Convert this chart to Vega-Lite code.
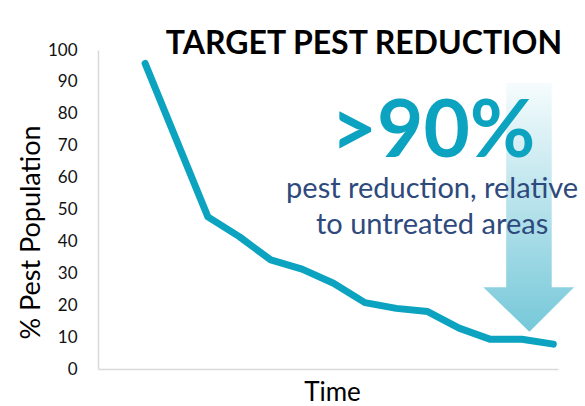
{
  "$schema": "https://vega.github.io/schema/vega-lite/v6.json",
  "autosize": "none",
  "width": 460,
  "height": 319,
  "padding": {"left": 98, "top": 50, "right": 27, "bottom": 37},
  "background": "white",
  "config": {"view": {"stroke": null}, "font": "Lato"},
  "datasets": {
    "pest": [
      {"t": 0, "pct": 95.8}, {"t": 2, "pct": 47.7}, {"t": 3, "pct": 41.5}, {"t": 4, "pct": 34.2},
      {"t": 5, "pct": 31.3}, {"t": 6, "pct": 26.9}, {"t": 7, "pct": 20.8}, {"t": 8, "pct": 19.0},
      {"t": 9, "pct": 18.0}, {"t": 10, "pct": 12.8}, {"t": 11, "pct": 9.3}, {"t": 12, "pct": 9.3},
      {"t": 13, "pct": 7.8}
    ],
    "arrow": [
      {"k": 1, "t": 11.5, "pct": 89.7}, {"k": 2, "t": 12.95, "pct": 89.7}, {"k": 3, "t": 12.95, "pct": 25.6},
      {"k": 4, "t": 13.66, "pct": 25.6}, {"k": 5, "t": 12.24, "pct": 11.7}, {"k": 6, "t": 10.77, "pct": 25.6},
      {"k": 7, "t": 11.5, "pct": 25.6}, {"k": 8, "t": 11.5, "pct": 89.7}
    ],
    "title": [{"t": 6.97, "pct": 98.9, "label": "TARGET PEST REDUCTION"}],
    "big": [{"t": 9.17, "pct": 66.5, "label": ">90%"}],
    "sub": [{"t": 9.14, "pct": 53.7, "label": "pest reduction, relative"}, {"t": 9.14, "pct": 42.4, "label": "to untreated areas"}]
  },
  "encoding": {
    "x": {"field": "t", "type": "quantitative", "scale": {"domain": [-1.5, 13.15], "nice": false, "zero": false},
      "axis": {"title": "Time", "labels": false, "ticks": false, "grid": false, "domainColor": "#d9d9d9", "domainWidth": 1.5,
        "titleFontSize": 26, "titleFontWeight": "normal", "titleColor": "#000000", "titleFont": "Lato",
        "titleX": 234, "titleY": 31, "titleBaseline": "alphabetic"}},
    "y": {"field": "pct", "type": "quantitative", "scale": {"domain": [0, 100], "nice": false},
      "axis": {"title": "% Pest Population", "values": [0,10,20,30,40,50,60,70,80,90,100], "ticks": false, "grid": false,
        "domainColor": "#d9d9d9", "domainWidth": 1.5, "labelPadding": 21, "labelFontSize": 17, "labelColor": "#111111", "labelFont": "Lato",
        "titleFontSize": 27, "titleFontWeight": "normal", "titleColor": "#000000", "titleFont": "Lato",
        "titleX": -67, "titleY": 182, "titleAngle": -90, "titleAlign": "center", "titleBaseline": "middle"}}
  },
  "layer": [
    {
      "data": {"name": "arrow"},
      "mark": {"type": "line", "filled": true, "strokeWidth": 0, "interpolate": "linear", "clip": false,
        "fill": {"gradient": "linear", "x1": 0, "y1": 0, "x2": 0, "y2": 1,
          "stops": [{"offset": 0, "color": "#f6fcfd"}, {"offset": 1, "color": "#76c8d9"}]}},
      "encoding": {"order": {"field": "k", "type": "quantitative"}}
    },
    {
      "data": {"name": "pest"},
      "mark": {"type": "line", "color": "#0ba3c0", "strokeWidth": 7, "strokeCap": "round", "strokeJoin": "round"}
    },
    {
      "data": {"name": "title"},
      "mark": {"type": "text", "font": "Lato", "fontWeight": "bold", "fontSize": 32, "color": "#000000", "align": "center", "baseline": "alphabetic"},
      "encoding": {"text": {"field": "label"}}
    },
    {
      "data": {"name": "big"},
      "mark": {"type": "text", "font": "Lato", "fontWeight": "bold", "fontSize": 80, "color": "#0ba3c0", "align": "center", "baseline": "alphabetic"},
      "encoding": {"text": {"field": "label"}}
    },
    {
      "data": {"name": "sub"},
      "mark": {"type": "text", "font": "Lato", "fontSize": 29, "color": "#2e4a7c", "align": "center", "baseline": "alphabetic"},
      "encoding": {"text": {"field": "label"}}
    }
  ]
}
